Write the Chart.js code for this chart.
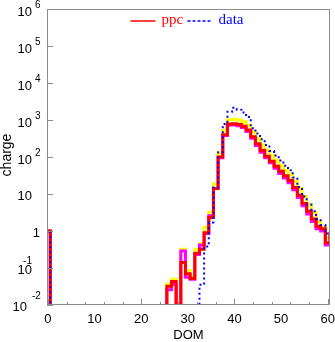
<!DOCTYPE html>
<html>
<head>
<meta charset="utf-8">
<script src="https://cdn.jsdelivr.net/npm/chart.js@4.4.0/dist/chart.umd.min.js"></script>
<style>
  html, body { margin: 0; padding: 0; background: #fff; }
  #wrap { width: 335px; height: 342px; position: relative; }
</style>
</head>
<body>
<div id="wrap"><canvas id="chart"></canvas></div>
<script>
// ---------------------------------------------------------
// DATA (one value per DOM bin, 0 = empty bin)
// bin 61 is only there so the last step closes like the original
// ---------------------------------------------------------
const DOM = [0,1,2,3,4,5,6,7,8,9,10,11,12,13,14,15,16,17,18,19,20,
             21,22,23,24,25,26,27,28,29,30,31,32,33,34,35,36,37,38,39,40,
             41,42,43,44,45,46,47,48,49,50,51,52,53,54,55,56,57,58,59,60,61];

// measured charge (blue dotted)
const dataCharge = [1,0,0,0,0,0,0,0,0,0,0,0,0,0,0,0,0,0,0,0,0,
                    0,0,0,0,0,0,0,0,0,0,0,0,0.035,0.38,1.7,15,135,780,1660,2150,
                    1900,1600,1200,600,430,300,210,145,110,80,58,44,28,15.5,8.5,5.2,3.4,2.1,1.45,0.85,1.0];

// ppc simulation (red)
const ppcCharge = [1,0,0,0,0,0,0,0,0,0,0,0,0,0,0,0,0,0,0,0,0,
                   0,0,0,0,0,0.032,0.043,0,0.14,0.07,0.052,0.25,0.32,0.9,2.3,14,100,400,780,790,
                   750,680,540,355,228,152,105,77,56,41,31,23,15,9.3,5.5,3.4,2.1,1.35,1.15,0.48,0.95];

// ppc variant (yellow)
const ppcHigh = [1,0,0,0,0,0,0,0,0,0,0,0,0,0,0,0,0,0,0,0,0,
                 0,0,0,0,0,0.037,0.05,0,0.32,0.085,0.058,0.32,0.45,1.25,3.2,19,130,520,1000,1050,
                 1000,900,720,480,310,210,150,110,80,58,44,33,22,14,8.5,5.2,3.2,1.8,1.3,0.65,1.0];

// ppc variant (magenta)
const ppcLow = [1,0,0,0,0,0,0,0,0,0,0,0,0,0,0,0,0,0,0,0,0,
                0,0,0,0,0,0.026,0.036,0,0.29,0.056,0.05,0.23,0.42,0.85,2.6,14,95,380,730,740,
                700,630,490,320,205,135,95,70,50,36,27,20,13,8,4.8,2.9,1.8,1.15,1.0,0.42,0.9];

// axis ticks / labels
const xTickLabels = ['0','10','20','30','40','50','60'];
const yDecades = [-2,-1,0,1,2,3,4,5,6];

// ---------------------------------------------------------
// STYLE
// ---------------------------------------------------------
const RED = '#ff0000';
const YELLOW = '#ffff00';
const MAGENTA = '#ff00ff';
const BLUE = '#0000ff';
const AXIS_GREY = '#8c8c8c';
const SANS = '"Liberation Sans", Arial, sans-serif';
const SERIF = '"Liberation Serif", "Times New Roman", serif';
const EMPTY = 1e-5; // empty bins fall below the axis and get clipped

// turn bin values into left-edge points for a step line
function histPoints(values) {
    const pts = DOM.map((d, i) => ({ x: d - 0.5, y: values[i] > 0 ? values[i] : EMPTY }));
    pts.push({ x: DOM[DOM.length - 1] + 0.5, y: pts[pts.length - 1].y });
    return pts;
}

function histDataset(label, values, color, width, dash) {
    return {
        label: label,
        data: histPoints(values),
        borderColor: color,
        borderWidth: width,
        borderDash: dash || [],
        stepped: 'before',
        pointRadius: 0,
        fill: false,
        clip: 0
    };
}

// frame, ticks, tick labels, titles and legend (ROOT style)
const rootFrame = {
    id: 'rootFrame',
    afterDatasetsDraw(chart) {
        const { ctx, chartArea: a, scales: { x, y } } = chart;
        ctx.save();

        // frame
        ctx.strokeStyle = AXIS_GREY;
        ctx.lineWidth = 1;
        ctx.setLineDash([]);
        ctx.strokeRect(a.left + 0.5, a.top + 0.5, a.right - a.left - 1, a.bottom - a.top - 1);

        // x ticks (inward)
        ctx.beginPath();
        x.ticks.forEach(t => {
            const px = Math.round(x.getPixelForValue(t.value)) + 0.5;
            const len = t.value % 10 === 0 ? 6 : 3;
            ctx.moveTo(px, a.bottom);
            ctx.lineTo(px, a.bottom - len);
        });
        // y ticks (inward)
        y.ticks.forEach(t => {
            const py = Math.round(y.getPixelForValue(t.value)) + 0.5;
            const len = t.major ? 6 : 3;
            ctx.moveTo(a.left, py);
            ctx.lineTo(a.left + len, py);
        });
        ctx.stroke();

        // x tick labels
        ctx.fillStyle = '#000';
        ctx.font = '13px ' + SANS;
        ctx.textAlign = 'center';
        ctx.textBaseline = 'middle';
        xTickLabels.forEach(lbl => {
            ctx.fillText(lbl, x.getPixelForValue(Number(lbl)), a.bottom + 14);
        });

        // y tick labels: 10 with raised exponent
        yDecades.forEach(e => {
            const py = y.getPixelForValue(Math.pow(10, e));
            ctx.textBaseline = 'middle';
            if (e === 0) {
                ctx.font = '13px ' + SANS;
                ctx.textAlign = 'right';
                ctx.fillText('1', a.left - 7, py + 2);
            } else if (e === 1) {
                ctx.font = '13px ' + SANS;
                ctx.textAlign = 'right';
                ctx.fillText('10', a.left - 15, py + 2);
            } else if (e === -1) {
                ctx.font = '13px ' + SANS;
                ctx.textAlign = 'right';
                ctx.fillText('10', a.left - 15, py + 2);
                ctx.font = '10px ' + SANS;
                ctx.fillText(String(e), a.left - 15, py - 7);
            } else if (e === -2) {
                ctx.font = '13px ' + SANS;
                ctx.textAlign = 'right';
                ctx.fillText('10', a.left - 20, py + 2);
                ctx.font = '10px ' + SANS;
                ctx.textAlign = 'left';
                ctx.fillText(String(e), a.left - 15, py - 9);
            } else {
                ctx.font = '13px ' + SANS;
                ctx.textAlign = 'right';
                ctx.fillText('10', a.left - 15, py + 3);
                ctx.font = '10px ' + SANS;
                ctx.textAlign = 'left';
                ctx.fillText(String(e), a.left - 12, py - 4);
            }
        });

        // axis titles
        ctx.font = '13px ' + SANS;
        ctx.textAlign = 'center';
        ctx.textBaseline = 'middle';
        ctx.fillText('DOM', (a.left + a.right) / 2, a.bottom + 30);
        ctx.save();
        ctx.translate(7, 155);
        ctx.rotate(-Math.PI / 2);
        ctx.font = '14px ' + SANS;
        ctx.fillText('charge', 0, 0);
        ctx.restore();

        // legend
        const cx = (a.left + a.right) / 2;
        const ly = a.top + 12;
        ctx.lineWidth = 1.5;
        ctx.strokeStyle = RED;
        ctx.beginPath();
        ctx.moveTo(cx - 58, ly);
        ctx.lineTo(cx - 33, ly);
        ctx.stroke();
        ctx.strokeStyle = BLUE;
        ctx.setLineDash([3, 2]);
        ctx.beginPath();
        ctx.moveTo(cx - 1, ly);
        ctx.lineTo(cx + 24, ly);
        ctx.stroke();
        ctx.setLineDash([]);
        ctx.font = '15px ' + SERIF;
        ctx.textAlign = 'left';
        ctx.textBaseline = 'alphabetic';
        ctx.fillStyle = RED;
        ctx.fillText('ppc', cx - 27, ly + 3);
        ctx.fillStyle = BLUE;
        ctx.fillText('data', cx + 30, ly + 3);

        ctx.restore();
    }
};

const ctx = document.getElementById('chart').getContext('2d');
new Chart(ctx, {
    type: 'line',
    data: {
        datasets: [
            histDataset('data', dataCharge, BLUE, 2, [2, 3]),
            histDataset('ppc', ppcCharge, RED, 3),
            histDataset('ppc low', ppcLow, MAGENTA, 3),
            histDataset('ppc high', ppcHigh, YELLOW, 3)
        ]
    },
    options: {
        responsive: true,
        maintainAspectRatio: false,
        animation: false,
        events: [],
        layout: { padding: { left: 47, top: 9, right: 5, bottom: 37 } },
        plugins: { legend: { display: false }, tooltip: { enabled: false } },
        scales: {
            x: {
                type: 'linear',
                min: -0.2,
                max: 60.5,
                display: false,
                afterBuildTicks: scale => {
                    const ticks = [];
                    for (let v = 0; v <= 60; v += 2) ticks.push({ value: v });
                    scale.ticks = ticks;
                }
            },
            y: {
                type: 'logarithmic',
                min: 1e-2,
                max: 1e6,
                display: false,
                afterBuildTicks: scale => {
                    const ticks = [];
                    yDecades.forEach(e => {
                        for (let m = 1; m <= 9; m++) {
                            if (e === 6 && m > 1) break;
                            ticks.push({ value: m * Math.pow(10, e), major: m === 1 });
                        }
                    });
                    scale.ticks = ticks;
                }
            }
        }
    },
    plugins: [rootFrame]
});
</script>
</body>
</html>
